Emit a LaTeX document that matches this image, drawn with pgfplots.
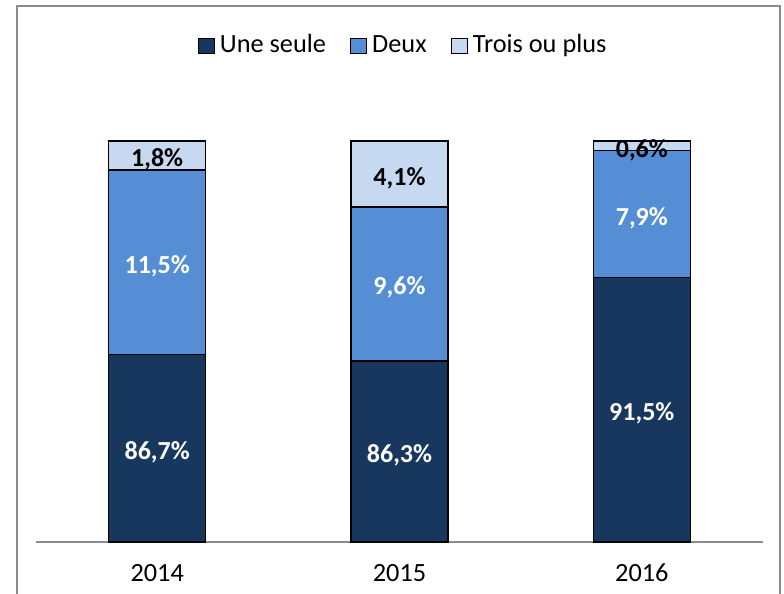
\documentclass[border=0pt]{standalone}
\usepackage{pgfplots}
\pgfplotsset{compat=1.18}
\usepackage{fontspec}
\setmainfont{Carlito}
\definecolor{cdark}{HTML}{17375E}
\definecolor{cmid}{HTML}{558ED5}
\definecolor{clight}{HTML}{C6D9F1}
\definecolor{cgray}{HTML}{8C8C8C}
\newcommand{\lblfont}{\fontsize{26}{30}\selectfont\bfseries}
\newcommand{\txtfont}{\fontsize{26.3}{30}\selectfont}
\tikzset{lbl/.style={font=\lblfont, yshift=-4pt}}
\begin{document}
\begin{tikzpicture}
\useasboundingbox (0pt,0pt) rectangle (784pt,594pt);
\draw[cgray, line width=2pt] (17pt,0pt) -- (17pt,588pt) -- (780pt,588pt) -- (780pt,0pt);
\begin{axis}[
  at={(36pt,52pt)}, anchor=south west,
  scale only axis, width=727pt, height=401pt,
  ybar stacked, bar width=97pt,
  xmin=-0.5, xmax=2.5, ymin=75, ymax=100,
  xtick={0,1,2}, xticklabels={2014,2015,2016},
  major tick length=0pt,
  axis x line*=bottom, axis y line=none,
  x axis line style={cgray, line width=2pt},
  xticklabel style={font=\txtfont, anchor=center, text height=17pt, text depth=0pt, yshift=-31pt},
  clip=false,
  legend columns=3,
  legend style={draw=none, fill=none, at={(axis description cs:0.505,1.235)}, anchor=center,
    font=\txtfont, nodes={text height=17pt, text depth=5pt},
    /tikz/every odd column/.append style={column sep=3pt},
    /tikz/every even column/.append style={column sep=22pt}},
  legend image code/.code={\draw[#1, line width=1.2pt] (0pt,-7pt) rectangle (16pt,8.5pt);},
]
\addplot[fill=cdark, draw=black, line width=1.6pt] coordinates {(0,86.7) (1,86.3) (2,91.5)};
\addplot[fill=cmid, draw=black, line width=1.6pt] coordinates {(0,11.5) (1,9.6) (2,7.9)};
\addplot[fill=clight, draw=black, line width=1.6pt] coordinates {(0,1.8) (1,4.1) (2,0.6)};
\legend{Une seule, Deux, Trois ou plus}
\coordinate (a1) at (axis cs:0,80.85);
\coordinate (a2) at (axis cs:1,80.65);
\coordinate (a3) at (axis cs:2,83.25);
\coordinate (b1) at (axis cs:0,92.45);
\coordinate (b2) at (axis cs:1,91.1);
\coordinate (b3) at (axis cs:2,95.45);
\coordinate (c1) at (axis cs:0,99.1);
\coordinate (c2) at (axis cs:1,97.95);
\coordinate (c3) at (axis cs:2,99.7);
\end{axis}
\node[lbl, white] at (a1) {86,7\%};
\node[lbl, white] at (a2) {86,3\%};
\node[lbl, white] at (a3) {91,5\%};
\node[lbl, white] at (b1) {11,5\%};
\node[lbl, white] at (b2) {9,6\%};
\node[lbl, white] at (b3) {7,9\%};
\node[lbl, black] at (c1) {1,8\%};
\node[lbl, black] at (c2) {4,1\%};
\node[lbl, black] at (c3) {0,6\%};
\end{tikzpicture}
\end{document}
